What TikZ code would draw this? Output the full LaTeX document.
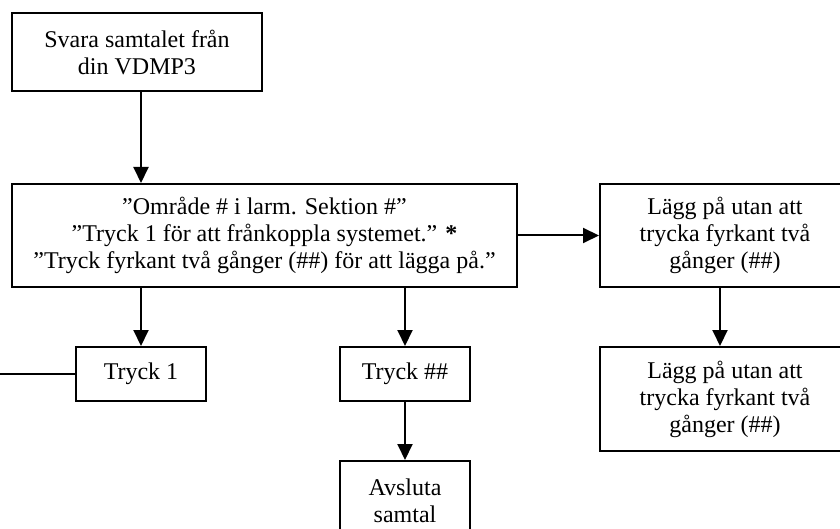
\documentclass[tikz,border=0pt]{standalone}
\usepackage{fontspec}
\setmainfont{Liberation Serif}
\usetikzlibrary{arrows.meta}
\begin{document}
\begin{tikzpicture}[x=1pt,y=-1pt,
  box/.style={draw=black, line width=2pt, align=center, inner sep=0pt,
    font=\fontsize{24}{27}\selectfont},
  arr/.style={line width=2pt, -{Triangle[length=16pt,width=15pt]}},
  conn/.style={line width=2pt}]
\useasboundingbox (0,0) rectangle (840,529);
\clip (0,0) rectangle (840,529);
\fill[white] (0,0) rectangle (840,529);
\node[box, minimum width=250pt, minimum height=78pt] (b1) at (137,52) {Svara samtalet från\\din VDMP3};
\node[box, minimum width=505pt, minimum height=103pt] (b2) at (264.5,235.5)
  {”Område \# i larm. Sektion \#”\\”Tryck 1 för att frånkoppla systemet.” \textbf{*}\\”Tryck fyrkant två gånger (\#\#) för att lägga på.”};
\node[box, minimum width=250pt, minimum height=103pt] (b3) at (725,235.5)
  {Lägg på utan att\\trycka fyrkant två\\gånger (\#\#)};
\node[box, minimum width=250pt, minimum height=104pt] (b4) at (725,399)
  {Lägg på utan att\\trycka fyrkant två\\gånger (\#\#)};
\node[box, minimum width=130pt, minimum height=54pt] (t1) at (141,374) {Tryck 1};
\node[box, minimum width=130pt, minimum height=54pt] (t2) at (405,374) {Tryck \#\#};
\node[box, minimum width=130pt, minimum height=80pt] (av) at (405,501) {Avsluta\\samtal};
\coordinate (lft) at (0,374);
\draw[arr] (b1.south -| t1) -- (b2.north -| t1);
\draw[arr] (b2.east) -- (b3.west);
\draw[arr] (b3.south -| 720,0) -- (b4.north -| 720,0);
\draw[arr] (b2.south -| t1) -- (t1.north);
\draw[arr] (b2.south -| t2) -- (t2.north);
\draw[arr] (t2.south) -- (av.north);
\draw[conn] (lft) -- (t1.west);
\end{tikzpicture}
\end{document}
